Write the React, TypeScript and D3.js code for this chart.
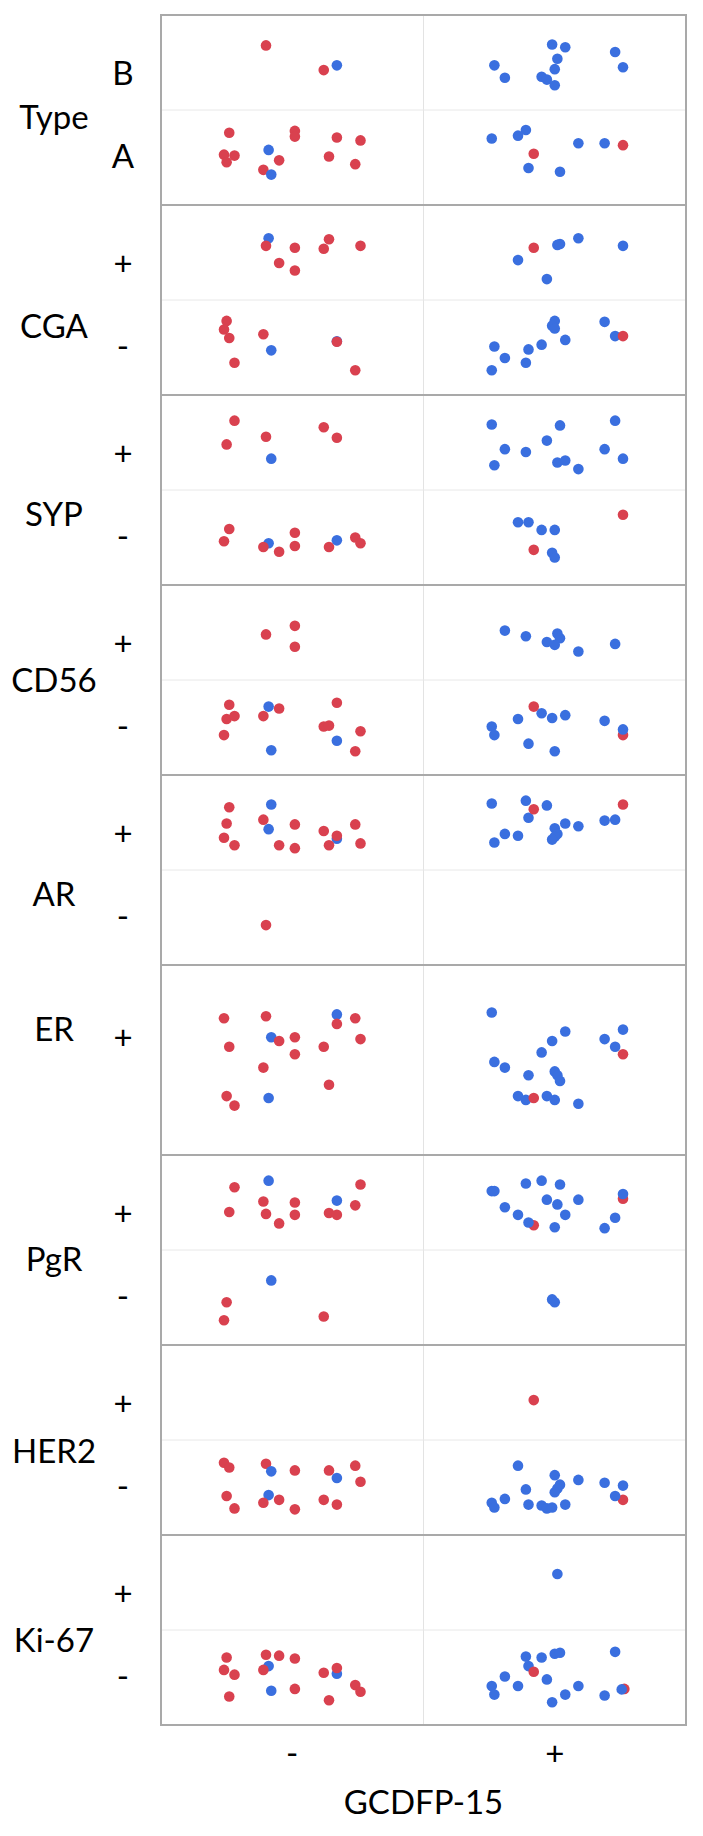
import React from 'react';
import * as d3 from 'd3';

// [GCDFP-15, level, x jitter (band frac), y jitter (band frac), colour group]
type Pt = [string, string, number, number, string];

const gcdfpCats = ['-', '+'];
const markers = ['Type', 'CGA', 'SYP', 'CD56', 'AR', 'ER', 'PgR', 'HER2', 'Ki-67'];
const markerLevels: Record<string, string[]> = {
  Type: ['B', 'A'],
  CGA: ['+', '-'],
  SYP: ['+', '-'],
  CD56: ['+', '-'],
  AR: ['+', '-'],
  ER: ['+'],
  PgR: ['+', '-'],
  HER2: ['+', '-'],
  'Ki-67': ['+', '-'],
};

const typePts: Pt[] = [
  ['-', 'B', -0.10, -0.18, 'r'], ['-', 'B', 0.12, 0.08, 'r'], ['-', 'B', 0.17, 0.03, 'b'],
  ['-', 'A', -0.24, -0.26, 'r'], ['-', 'A', 0.01, -0.28, 'r'], ['-', 'A', 0.01, -0.22, 'r'],
  ['-', 'A', 0.17, -0.21, 'r'], ['-', 'A', 0.26, -0.18, 'r'], ['-', 'A', -0.09, -0.08, 'b'],
  ['-', 'A', -0.26, -0.03, 'r'], ['-', 'A', -0.22, -0.02, 'r'], ['-', 'A', -0.25, 0.05, 'r'],
  ['-', 'A', -0.05, 0.03, 'r'], ['-', 'A', 0.14, -0.01, 'r'], ['-', 'A', 0.24, 0.07, 'r'],
  ['-', 'A', -0.11, 0.13, 'r'], ['-', 'A', -0.08, 0.18, 'b'],
  ['+', 'B', -0.01, -0.19, 'b'], ['+', 'B', 0.04, -0.16, 'b'], ['+', 'B', 0.23, -0.11, 'b'],
  ['+', 'B', 0.01, -0.04, 'b'], ['+', 'B', -0.23, 0.03, 'b'], ['+', 'B', 0.26, 0.05, 'b'],
  ['+', 'B', 0.00, 0.07, 'b'], ['+', 'B', -0.19, 0.16, 'b'], ['+', 'B', -0.05, 0.15, 'b'],
  ['+', 'B', -0.03, 0.18, 'b'], ['+', 'B', 0.00, 0.24, 'b'],
  ['+', 'A', -0.11, -0.29, 'b'], ['+', 'A', -0.14, -0.23, 'b'], ['+', 'A', -0.24, -0.20, 'b'],
  ['+', 'A', 0.09, -0.15, 'b'], ['+', 'A', 0.19, -0.15, 'b'], ['+', 'A', 0.26, -0.13, 'r'],
  ['+', 'A', -0.08, -0.04, 'r'], ['+', 'A', -0.10, 0.11, 'b'], ['+', 'A', 0.02, 0.15, 'b'],
];

const cgaPts: Pt[] = [
  ['-', '+', -0.09, -0.15, 'b'], ['-', '+', -0.10, -0.07, 'r'], ['-', '+', 0.01, -0.05, 'r'],
  ['-', '+', 0.14, -0.14, 'r'], ['-', '+', 0.12, -0.04, 'r'], ['-', '+', 0.26, -0.07, 'r'],
  ['-', '+', -0.05, 0.11, 'r'], ['-', '+', 0.01, 0.19, 'r'],
  ['-', '-', -0.25, -0.28, 'r'], ['-', '-', -0.26, -0.19, 'r'], ['-', '-', -0.24, -0.10, 'r'],
  ['-', '-', -0.11, -0.14, 'r'], ['-', '-', -0.08, 0.03, 'b'], ['-', '-', 0.17, -0.065, 'b'],
  ['-', '-', 0.17, -0.06, 'r'], ['-', '-', -0.22, 0.16, 'r'], ['-', '-', 0.24, 0.24, 'r'],
  ['+', '+', -0.08, -0.05, 'r'], ['+', '+', 0.01, -0.08, 'b'], ['+', '+', 0.02, -0.09, 'b'],
  ['+', '+', 0.09, -0.15, 'b'], ['+', '+', 0.26, -0.07, 'b'], ['+', '+', -0.14, 0.08, 'b'],
  ['+', '+', -0.03, 0.28, 'b'],
  ['+', '-', 0.00, -0.28, 'b'], ['+', '-', -0.01, -0.23, 'b'], ['+', '-', 0.00, -0.20, 'b'],
  ['+', '-', 0.19, -0.27, 'b'], ['+', '-', 0.23, -0.12, 'b'], ['+', '-', 0.26, -0.12, 'r'],
  ['+', '-', 0.04, -0.08, 'b'], ['+', '-', -0.05, -0.03, 'b'], ['+', '-', -0.10, 0.02, 'b'],
  ['+', '-', -0.23, -0.01, 'b'], ['+', '-', -0.19, 0.11, 'b'], ['+', '-', -0.11, 0.16, 'b'],
  ['+', '-', -0.24, 0.24, 'b'],
];

const sypPts: Pt[] = [
  ['-', '+', -0.22, -0.23, 'r'], ['-', '+', -0.25, 0.02, 'r'], ['-', '+', -0.10, -0.06, 'r'],
  ['-', '+', 0.12, -0.16, 'r'], ['-', '+', 0.17, -0.05, 'r'], ['-', '+', -0.08, 0.17, 'b'],
  ['-', '-', -0.24, -0.09, 'r'], ['-', '-', -0.26, 0.04, 'r'], ['-', '-', 0.01, -0.05, 'r'],
  ['-', '-', -0.09, 0.06, 'b'], ['-', '-', -0.11, 0.10, 'r'], ['-', '-', -0.05, 0.15, 'r'],
  ['-', '-', 0.01, 0.09, 'r'], ['-', '-', 0.14, 0.10, 'r'], ['-', '-', 0.17, 0.03, 'b'],
  ['-', '-', 0.24, 0.00, 'r'], ['-', '-', 0.26, 0.06, 'r'],
  ['+', '+', -0.24, -0.19, 'b'], ['+', '+', 0.02, -0.18, 'b'], ['+', '+', 0.23, -0.23, 'b'],
  ['+', '+', -0.03, -0.02, 'b'], ['+', '+', -0.19, 0.07, 'b'], ['+', '+', -0.11, 0.10, 'b'],
  ['+', '+', -0.23, 0.24, 'b'], ['+', '+', 0.01, 0.21, 'b'], ['+', '+', 0.04, 0.19, 'b'],
  ['+', '+', 0.09, 0.28, 'b'], ['+', '+', 0.19, 0.07, 'b'], ['+', '+', 0.26, 0.17, 'b'],
  ['+', '-', -0.14, -0.16, 'b'], ['+', '-', -0.10, -0.16, 'b'], ['+', '-', -0.05, -0.08, 'b'],
  ['+', '-', 0.00, -0.08, 'b'], ['+', '-', 0.26, -0.24, 'r'], ['+', '-', -0.08, 0.13, 'r'],
  ['+', '-', -0.01, 0.16, 'b'], ['+', '-', 0.00, 0.21, 'b'],
];

const cd56Pts: Pt[] = [
  ['-', '+', -0.10, 0.02, 'r'], ['-', '+', 0.01, -0.07, 'r'], ['-', '+', 0.01, 0.15, 'r'],
  ['-', '-', -0.24, -0.24, 'r'], ['-', '-', -0.05, -0.20, 'r'], ['-', '-', -0.09, -0.22, 'b'],
  ['-', '-', -0.25, -0.09, 'r'], ['-', '-', -0.22, -0.12, 'r'], ['-', '-', -0.11, -0.12, 'r'],
  ['-', '-', 0.17, -0.26, 'r'], ['-', '-', 0.12, -0.01, 'r'], ['-', '-', 0.14, -0.02, 'r'],
  ['-', '-', 0.26, 0.04, 'r'], ['-', '-', -0.26, 0.08, 'r'], ['-', '-', 0.17, 0.14, 'b'],
  ['-', '-', -0.08, 0.24, 'b'], ['-', '-', 0.24, 0.25, 'r'],
  ['+', '+', -0.19, -0.02, 'b'], ['+', '+', -0.11, 0.04, 'b'], ['+', '+', -0.03, 0.10, 'b'],
  ['+', '+', 0.01, 0.01, 'b'], ['+', '+', 0.02, 0.06, 'b'], ['+', '+', 0.00, 0.13, 'b'],
  ['+', '+', 0.09, 0.20, 'b'], ['+', '+', 0.23, 0.12, 'b'],
  ['+', '-', -0.05, -0.15, 'b'], ['+', '-', -0.08, -0.22, 'r'], ['+', '-', -0.01, -0.10, 'b'],
  ['+', '-', 0.04, -0.13, 'b'], ['+', '-', -0.14, -0.09, 'b'], ['+', '-', -0.24, -0.01, 'b'],
  ['+', '-', -0.23, 0.08, 'b'], ['+', '-', 0.19, -0.07, 'b'], ['+', '-', 0.26, 0.08, 'r'],
  ['+', '-', 0.26, 0.02, 'b'], ['+', '-', -0.10, 0.17, 'b'], ['+', '-', 0.00, 0.25, 'b'],
];

const arPts: Pt[] = [
  ['-', '+', -0.24, -0.16, 'r'], ['-', '+', -0.08, -0.19, 'b'], ['-', '+', -0.25, 0.01, 'r'],
  ['-', '+', -0.11, -0.03, 'r'], ['-', '+', -0.09, 0.07, 'b'], ['-', '+', 0.01, 0.02, 'r'],
  ['-', '+', 0.12, 0.09, 'r'], ['-', '+', 0.24, 0.02, 'r'], ['-', '+', -0.26, 0.16, 'r'],
  ['-', '+', -0.22, 0.24, 'r'], ['-', '+', -0.05, 0.24, 'r'], ['-', '+', 0.01, 0.27, 'r'],
  ['-', '+', 0.17, 0.17, 'b'], ['-', '+', 0.17, 0.14, 'r'], ['-', '+', 0.14, 0.24, 'r'],
  ['-', '+', 0.26, 0.22, 'r'],
  ['-', '-', -0.10, 0.08, 'r'],
  ['+', '+', -0.24, -0.20, 'b'], ['+', '+', -0.11, -0.23, 'b'], ['+', '+', -0.10, -0.05, 'b'],
  ['+', '+', -0.08, -0.14, 'r'], ['+', '+', -0.03, -0.18, 'b'], ['+', '+', 0.26, -0.19, 'r'],
  ['+', '+', 0.04, 0.01, 'b'], ['+', '+', 0.09, 0.04, 'b'], ['+', '+', 0.19, -0.02, 'b'],
  ['+', '+', 0.23, -0.03, 'b'], ['+', '+', 0.00, 0.06, 'b'], ['+', '+', 0.01, 0.12, 'b'],
  ['+', '+', 0.00, 0.15, 'b'], ['+', '+', -0.01, 0.18, 'b'], ['+', '+', -0.19, 0.12, 'b'],
  ['+', '+', -0.14, 0.14, 'b'], ['+', '+', -0.23, 0.21, 'b'],
];

const erPts: Pt[] = [
  ['-', '+', -0.26, -0.22, 'r'], ['-', '+', -0.10, -0.23, 'r'], ['-', '+', 0.17, -0.24, 'b'],
  ['-', '+', 0.17, -0.19, 'r'], ['-', '+', 0.24, -0.22, 'r'], ['-', '+', -0.08, -0.12, 'b'],
  ['-', '+', -0.05, -0.10, 'r'], ['-', '+', 0.01, -0.12, 'r'], ['-', '+', 0.26, -0.11, 'r'],
  ['-', '+', -0.24, -0.07, 'r'], ['-', '+', 0.12, -0.07, 'r'], ['-', '+', 0.01, -0.03, 'r'],
  ['-', '+', -0.11, 0.04, 'r'], ['-', '+', 0.14, 0.13, 'r'], ['-', '+', -0.25, 0.19, 'r'],
  ['-', '+', -0.09, 0.20, 'b'], ['-', '+', -0.22, 0.24, 'r'],
  ['+', '+', -0.24, -0.25, 'b'], ['+', '+', 0.04, -0.15, 'b'], ['+', '+', 0.26, -0.16, 'b'],
  ['+', '+', 0.19, -0.11, 'b'], ['+', '+', -0.01, -0.10, 'b'], ['+', '+', -0.05, -0.04, 'b'],
  ['+', '+', 0.23, -0.07, 'b'], ['+', '+', 0.26, -0.03, 'r'], ['+', '+', -0.23, 0.01, 'b'],
  ['+', '+', -0.19, 0.04, 'b'], ['+', '+', -0.10, 0.08, 'b'], ['+', '+', 0.00, 0.06, 'b'],
  ['+', '+', 0.01, 0.08, 'b'], ['+', '+', 0.02, 0.11, 'b'], ['+', '+', -0.14, 0.19, 'b'],
  ['+', '+', -0.11, 0.21, 'b'], ['+', '+', -0.03, 0.19, 'b'], ['+', '+', 0.00, 0.21, 'b'],
  ['+', '+', 0.09, 0.23, 'b'], ['+', '+', -0.08, 0.20, 'r'],
];

const pgrPts: Pt[] = [
  ['-', '+', -0.09, -0.23, 'b'], ['-', '+', -0.22, -0.16, 'r'], ['-', '+', 0.26, -0.19, 'r'],
  ['-', '+', 0.17, -0.02, 'b'], ['-', '+', -0.11, -0.01, 'r'], ['-', '+', 0.01, 0.00, 'r'],
  ['-', '+', 0.24, 0.03, 'r'], ['-', '+', -0.24, 0.10, 'r'], ['-', '+', -0.10, 0.12, 'r'],
  ['-', '+', 0.01, 0.13, 'r'], ['-', '+', 0.14, 0.11, 'r'], ['-', '+', 0.17, 0.13, 'r'],
  ['-', '+', -0.05, 0.22, 'r'],
  ['-', '-', -0.08, -0.18, 'b'], ['-', '-', -0.25, 0.05, 'r'], ['-', '-', -0.26, 0.24, 'r'],
  ['-', '-', 0.12, 0.20, 'r'],
  ['+', '+', -0.11, -0.20, 'b'], ['+', '+', -0.05, -0.23, 'b'], ['+', '+', 0.02, -0.19, 'b'],
  ['+', '+', -0.24, -0.12, 'b'], ['+', '+', -0.23, -0.12, 'b'], ['+', '+', -0.03, -0.03, 'b'],
  ['+', '+', 0.01, 0.02, 'b'], ['+', '+', 0.09, -0.03, 'b'], ['+', '+', 0.26, -0.04, 'r'],
  ['+', '+', 0.26, -0.09, 'b'], ['+', '+', -0.19, 0.05, 'b'], ['+', '+', -0.14, 0.13, 'b'],
  ['+', '+', 0.04, 0.13, 'b'], ['+', '+', -0.08, 0.24, 'r'], ['+', '+', -0.10, 0.21, 'b'],
  ['+', '+', 0.00, 0.26, 'b'], ['+', '+', 0.23, 0.16, 'b'], ['+', '+', 0.19, 0.27, 'b'],
  ['+', '-', -0.01, 0.02, 'b'], ['+', '-', 0.00, 0.05, 'b'],
];

const her2Pts: Pt[] = [
  ['-', '-', -0.26, -0.26, 'r'], ['-', '-', -0.24, -0.21, 'r'], ['-', '-', -0.10, -0.25, 'r'],
  ['-', '-', -0.08, -0.17, 'b'], ['-', '-', 0.01, -0.18, 'r'], ['-', '-', 0.14, -0.18, 'r'],
  ['-', '-', 0.17, -0.10, 'b'], ['-', '-', 0.24, -0.23, 'r'], ['-', '-', 0.26, -0.06, 'r'],
  ['-', '-', -0.25, 0.09, 'r'], ['-', '-', -0.09, 0.08, 'b'], ['-', '-', -0.11, 0.16, 'r'],
  ['-', '-', -0.05, 0.13, 'r'], ['-', '-', -0.22, 0.22, 'r'], ['-', '-', 0.01, 0.23, 'r'],
  ['-', '-', 0.12, 0.13, 'r'], ['-', '-', 0.17, 0.18, 'r'],
  ['+', '+', -0.08, 0.08, 'r'],
  ['+', '-', -0.14, -0.23, 'b'], ['+', '-', 0.00, -0.13, 'b'], ['+', '-', 0.09, -0.08, 'b'],
  ['+', '-', 0.19, -0.05, 'b'], ['+', '-', 0.26, -0.02, 'b'], ['+', '-', 0.02, -0.03, 'b'],
  ['+', '-', 0.01, 0.01, 'b'], ['+', '-', 0.00, 0.05, 'b'], ['+', '-', -0.11, 0.02, 'b'],
  ['+', '-', -0.19, 0.12, 'b'], ['+', '-', -0.24, 0.16, 'b'], ['+', '-', -0.23, 0.21, 'b'],
  ['+', '-', -0.10, 0.18, 'b'], ['+', '-', -0.05, 0.19, 'b'], ['+', '-', -0.03, 0.22, 'b'],
  ['+', '-', -0.01, 0.21, 'b'], ['+', '-', 0.04, 0.18, 'b'], ['+', '-', 0.26, 0.13, 'r'],
  ['+', '-', 0.23, 0.09, 'b'],
];

const ki67Pts: Pt[] = [
  ['+', '+', 0.01, -0.09, 'b'],
  ['-', '-', -0.25, -0.21, 'r'], ['-', '-', -0.10, -0.24, 'r'], ['-', '-', -0.05, -0.23, 'r'],
  ['-', '-', 0.01, -0.20, 'r'], ['-', '-', -0.09, -0.12, 'b'], ['-', '-', -0.11, -0.08, 'r'],
  ['-', '-', -0.26, -0.08, 'r'], ['-', '-', -0.22, -0.03, 'r'], ['-', '-', 0.17, -0.04, 'b'],
  ['-', '-', 0.17, -0.10, 'r'], ['-', '-', 0.12, -0.05, 'r'], ['-', '-', 0.24, 0.08, 'r'],
  ['-', '-', 0.26, 0.15, 'r'], ['-', '-', -0.08, 0.14, 'b'], ['-', '-', 0.01, 0.12, 'r'],
  ['-', '-', -0.24, 0.20, 'r'], ['-', '-', 0.14, 0.24, 'r'],
  ['+', '-', -0.11, -0.22, 'b'], ['+', '-', -0.05, -0.21, 'b'], ['+', '-', 0.00, -0.25, 'b'],
  ['+', '-', 0.02, -0.26, 'b'], ['+', '-', 0.23, -0.27, 'b'], ['+', '-', -0.10, -0.12, 'b'],
  ['+', '-', -0.08, -0.06, 'r'], ['+', '-', -0.19, -0.01, 'b'], ['+', '-', -0.03, 0.02, 'b'],
  ['+', '-', -0.24, 0.09, 'b'], ['+', '-', -0.23, 0.18, 'b'], ['+', '-', -0.14, 0.09, 'b'],
  ['+', '-', 0.09, 0.09, 'b'], ['+', '-', 0.04, 0.18, 'b'], ['+', '-', -0.01, 0.26, 'b'],
  ['+', '-', 0.19, 0.19, 'b'], ['+', '-', 0.265, 0.12, 'r'], ['+', '-', 0.255, 0.125, 'b'],
];

const pointsByMarker: Record<string, Pt[]> = {
  Type: typePts, CGA: cgaPts, SYP: sypPts, CD56: cd56Pts, AR: arPts,
  ER: erPts, PgR: pgrPts, HER2: her2Pts, 'Ki-67': ki67Pts,
};

// layout
const W = 703;
const H = 1836;
const M = { left: 161, right: 686, top: 15, bottom: 1725 };
const R = 5.3;
const FONT = 'Lato, "Open Sans", sans-serif';
const FS = 33;
// vertical position of each marker name inside its panel (fraction of panel height)
const markerLabelFrac = [0.54, 0.64, 0.63, 0.5, 0.63, 0.34, 0.55, 0.56, 0.556];

const colour = d3.scaleOrdinal<string, string>().domain(['r', 'b']).range(['#d9414f', '#3a6fdf']);

export default function App() {
  const x = d3.scaleBand().domain(gcdfpCats).range([M.left, M.right]);
  const panel = d3.scaleBand().domain(markers).range([M.top, M.bottom]);
  const ph = panel.bandwidth();
  const midX = x('+')!;

  return (
    <div style={{ position: 'absolute', left: 0, top: 0 }}>
      <svg width={W} height={H} style={{ display: 'block', background: '#fff' }} fontFamily={FONT}>
        {markers.map((m, i) => {
          const top = panel(m)!;
          const levels = markerLevels[m];
          const y = d3.scaleBand().domain(levels).range([top, top + ph]);
          const bh = y.bandwidth();
          return (
            <g key={m}>
              {/* grid */}
              <line x1={midX} x2={midX} y1={top} y2={top + ph} stroke="#e3e3e3" strokeWidth={1} />
              {levels.length > 1 && (
                <line x1={M.left} x2={M.right} y1={y(levels[1])!} y2={y(levels[1])!} stroke="#e8e8e8" strokeWidth={1} />
              )}
              {/* points */}
              {pointsByMarker[m].map((p, j) => (
                <circle
                  key={j}
                  cx={x(p[0])! + x.bandwidth() * (0.5 + p[2])}
                  cy={y(p[1])! + bh * (0.5 + p[3])}
                  r={R}
                  fill={colour(p[4])}
                />
              ))}
              <rect x={M.left} y={top} width={M.right - M.left} height={ph} fill="none" stroke="#a9a9a9" strokeWidth={2} />
              {/* marker name */}
              <text x={54} y={top + ph * markerLabelFrac[i]} dy="0.35em" textAnchor="middle" fontSize={FS} fill="#000">
                {m}
              </text>
              {/* level labels */}
              {levels.map((lv, k) => {
                const frac = levels.length === 1 ? 0.38 : k === 0 ? 0.31 : 0.745;
                return (
                  <text key={lv} x={123} y={top + ph * frac} dy="0.35em" textAnchor="middle" fontSize={FS} fill="#000">
                    {lv}
                  </text>
                );
              })}
            </g>
          );
        })}
        {/* x axis */}
        {gcdfpCats.map((c) => (
          <text key={c} x={x(c)! + x.bandwidth() / 2} y={1753} dy="0.35em" textAnchor="middle" fontSize={FS} fill="#000">
            {c}
          </text>
        ))}
        <text x={(M.left + M.right) / 2} y={1802} dy="0.35em" textAnchor="middle" fontSize={FS} fill="#000">
          GCDFP-15
        </text>
      </svg>
    </div>
  );
}
